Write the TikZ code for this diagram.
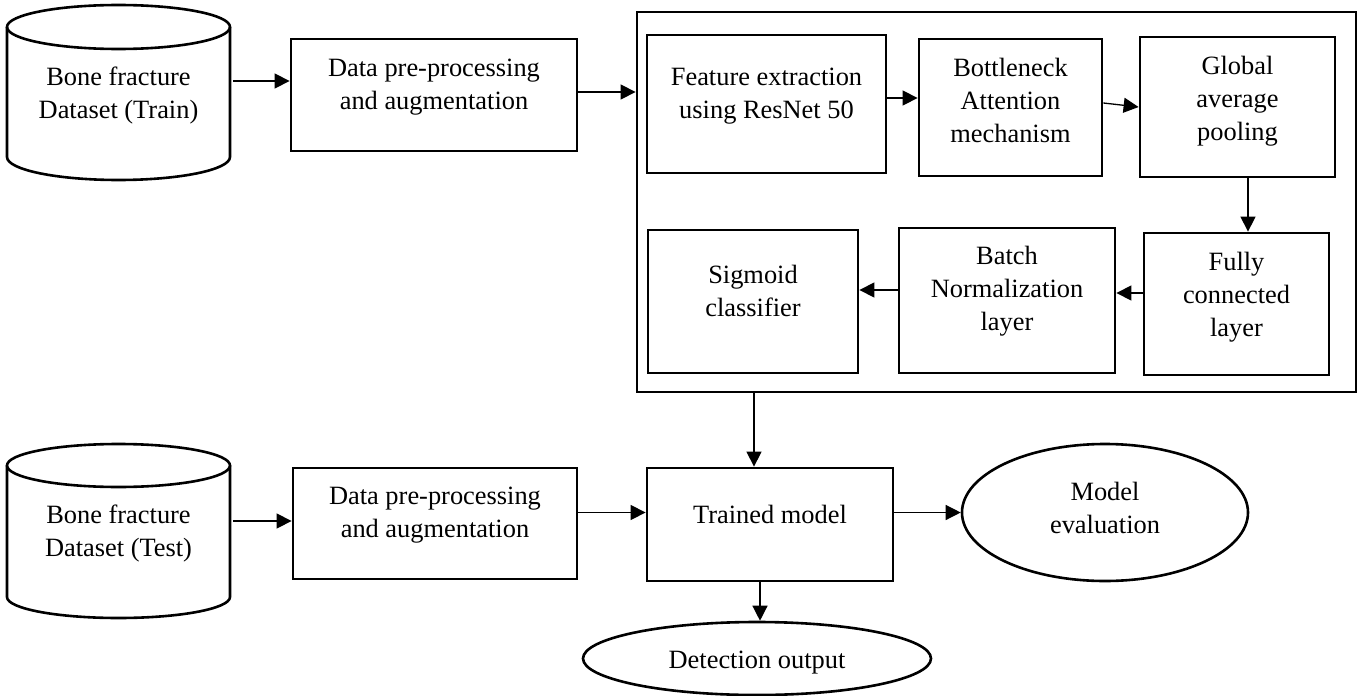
\documentclass[tikz,border=0pt]{standalone}
\usepackage{fontspec}
\setmainfont{Liberation Serif}
\usetikzlibrary{arrows.meta,shapes.geometric}
% text block of fixed size: width, height, gap above the first line, lines
\newcommand{\boxlines}[4]{\parbox[c][#2][t]{#1}{\vskip#3\relax\centering\rule{0pt}{18pt}#4\par}}
\begin{document}
\begin{tikzpicture}[x=1pt,y=-1pt,
  every node/.style={font=\fontsize{26.4}{33}\selectfont, inner sep=0pt},
  stage/.style={draw, line width=2.8pt, rectangle},
  store/.style={outer sep=0pt},
  oval/.style={draw, ellipse, line width=2.6pt},
  flow/.style={line width=1.3pt, -{Triangle[length=15pt,width=15pt]}},
  wall/.style={line width=2.6pt}]
\useasboundingbox (0,0) rectangle (1358,696);

% training branch
\node[store] (train) at (118.5,92.5) {\boxlines{223pt}{175pt}{62pt}{Bone fracture\\Dataset (Train)}};
\node[stage] (prep1) at (434,95) {\boxlines{286pt}{112pt}{19pt}{Data pre-processing\\and augmentation}};

% network block
\node[draw, line width=2.8pt, minimum width=719pt, minimum height=380pt] (model) at (996.5,202) {};
\node[stage] (feat) at (766.5,104) {\boxlines{239pt}{138pt}{32pt}{Feature extraction\\using ResNet 50}};
\node[stage] (bam) at (1010.5,107.5) {\boxlines{183pt}{137pt}{19pt}{Bottleneck\\Attention\\mechanism}};
\node[stage] (gap) at (1237.5,107) {\boxlines{195pt}{140pt}{19pt}{Global\\average\\pooling}};
\node[stage] (fc) at (1236.5,304) {\boxlines{185pt}{142pt}{19pt}{Fully\\connected\\layer}};
\node[stage] (bn) at (1007,300.5) {\boxlines{216pt}{145pt}{18pt}{Batch\\Normalization\\layer}};
\node[stage] (sig) at (753,301.5) {\boxlines{210pt}{143pt}{35pt}{Sigmoid\\classifier}};

% testing branch
\node[store] (test) at (118.5,531) {\boxlines{223pt}{174pt}{61pt}{Bone fracture\\Dataset (Test)}};
\node[stage] (prep2) at (435,523.5) {\boxlines{284pt}{111pt}{18pt}{Data pre-processing\\and augmentation}};
\node[stage] (trained) at (770,524.5) {\boxlines{246pt}{113pt}{37pt}{Trained model}};
\node[oval, minimum width=286pt, minimum height=137pt] (eval) at (1105,512.5) {\boxlines{150pt}{90pt}{14.5pt}{Model\\evaluation}};
\node[oval, minimum width=348pt, minimum height=73pt] (detect) at (757,658.5) {\boxlines{220pt}{40pt}{11.5pt}{Detection output}};

% database cylinders
\draw[wall] ([yshift=-22pt]train.north) ellipse [x radius=111.5pt, y radius=22pt];
\draw[wall] ([yshift=-22pt]train.north west) -- ([yshift=23pt]train.south west)
  arc[start angle=180, end angle=360, x radius=111.5pt, y radius=23pt] -- ([yshift=-22pt]train.north east);
\draw[wall] ([yshift=-21.5pt]test.north) ellipse [x radius=111.5pt, y radius=21.5pt];
\draw[wall] ([yshift=-21.5pt]test.north west) -- ([yshift=21pt]test.south west)
  arc[start angle=180, end angle=360, x radius=111.5pt, y radius=21pt] -- ([yshift=-21.5pt]test.north east);

% connectors
\coordinate (a1) at ([xshift=3pt,yshift=11.5pt]train.east);
\draw[flow] (a1) -- (a1 -| prep1.west);
\coordinate (a2) at ([yshift=3pt]prep1.east);
\draw[flow] (a2) -- (a2 -| model.west);
\coordinate (a3) at ([yshift=6pt]feat.east);
\draw[flow] (a3) -- (a3 -| bam.west);
\draw[flow] ([yshift=4.5pt]bam.east) -- (gap.west);
\coordinate (a5) at ([xshift=10.5pt]gap.south);
\draw[flow] (a5) -- (a5 |- fc.north);
\coordinate (a6) at ([yshift=11pt]fc.west);
\draw[flow] (a6) -- (a6 -| bn.east);
\coordinate (a7) at ([yshift=10.5pt]bn.west);
\draw[flow] (a7) -- (a7 -| sig.east);
\coordinate (a8) at ([xshift=-16pt]trained.north);
\draw[flow] (a8 |- model.south) -- (a8);
\coordinate (a9) at ([xshift=3pt,yshift=10pt]test.east);
\draw[flow] (a9) -- (a9 -| prep2.west);
\coordinate (a10) at ([yshift=11pt]prep2.east);
\draw[flow] (a10) -- (a10 -| trained.west);
\draw[flow] ([yshift=12pt]trained.east) -- (eval.west);
\coordinate (a12) at ([xshift=-10pt]trained.south);
\draw[flow] (a12) -- (a12 |- detect.north);
\end{tikzpicture}
\end{document}
